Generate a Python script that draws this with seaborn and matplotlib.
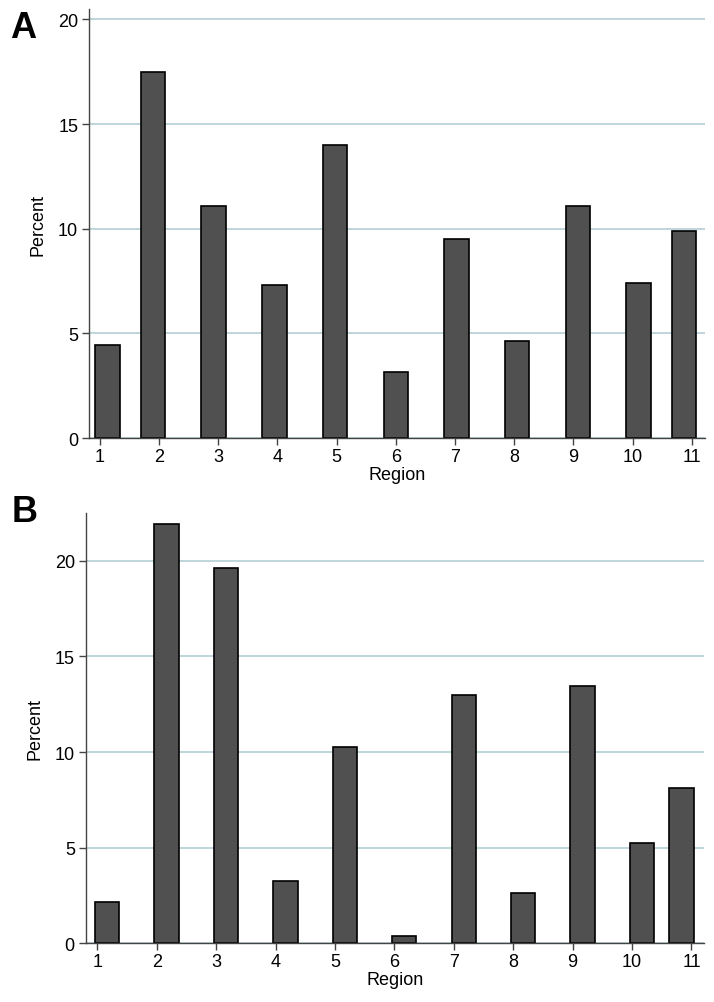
import matplotlib.pyplot as plt
import seaborn as sns

# share of cases per region (%)
regions = [1, 2, 3, 4, 5, 6, 7, 8, 9, 10, 11]
percent_a = [4.46, 17.50, 11.07, 7.31, 13.99, 3.17, 9.51, 4.62, 11.07, 7.41, 9.89]
percent_b = [2.15, 21.95, 19.61, 3.25, 10.29, 0.40, 12.98, 2.65, 13.47, 5.25, 8.13]
y_ticks = [0, 5, 10, 15, 20]

sns.set_style("white")
plt.rcParams['font.family'] = ['Liberation Sans', 'DejaVu Sans']
plt.rcParams['text.color'] = 'black'
plt.rcParams['axes.labelcolor'] = 'black'

fig = plt.figure(figsize=(7.14, 10.03), dpi=100)

# letter, values, bins, shrink, axes rect, xlim, ymax, letter pos
panels = [
    ("A", percent_a, 39, 1.61, [0.125, 0.5623, 0.862, 0.4277], (0.82, 11.22), 20.5, (10, 38)),
    ("B", percent_b, 30, 1.22, [0.1204, 0.0585, 0.8655, 0.429], (0.81, 11.21), 22.5, (12, 522)),
]

axis_col = '#444444'

for letter, pct, nbins, shrink, rect, xlim, ymax, (lx, ly) in panels:
    ax = fig.add_axes(rect)
    sns.histplot(x=regions, weights=pct, bins=nbins, binrange=(1, 11), shrink=shrink,
                 color='#505050', edgecolor='black', linewidth=1.2, alpha=1, ax=ax)
    # drop the empty bins so they don't draw a line along the baseline
    for p in list(ax.patches):
        if p.get_height() <= 0:
            p.remove()

    ax.set_xlim(*xlim)
    ax.set_ylim(0, ymax)
    ax.set_xticks(regions)
    ax.set_yticks(y_ticks)
    ax.grid(axis='y', color='#b9d2d7', lw=1.3)
    ax.grid(axis='x', visible=False)
    ax.set_axisbelow(True)

    for s in ['top', 'right']:
        ax.spines[s].set_visible(False)
    for s in ['left', 'bottom']:
        ax.spines[s].set_color(axis_col)
        ax.spines[s].set_linewidth(1.0)

    ax.tick_params(axis='both', length=5, width=1, color=axis_col, labelcolor='black',
                   labelsize=13, direction='out', left=True, bottom=True)
    ax.tick_params(axis='x', pad=2)
    ax.tick_params(axis='y', pad=3)
    ax.set_xlabel('Region', fontsize=13, labelpad=1)
    ax.set_ylabel('Percent', fontsize=13, labelpad=8)

    fig.text(lx / 714, 1 - ly / 1003, letter, fontsize=26, fontweight='bold',
             va='baseline', ha='left', color='black')

fig.savefig('out.png', dpi=100)
plt.close(fig)
